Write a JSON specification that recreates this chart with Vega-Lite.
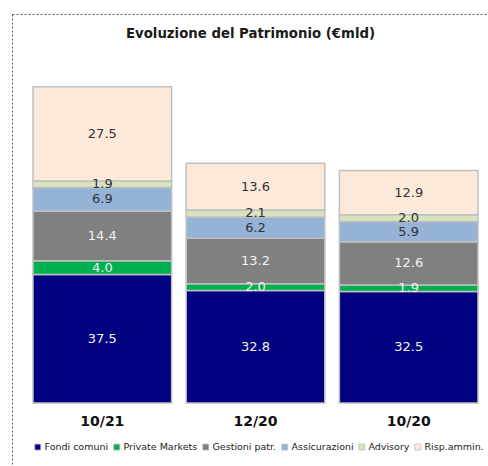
{
  "$schema": "https://vega.github.io/schema/vega-lite/v6.json",
  "width": 477,
  "height": 470,
  "autosize": "none",
  "padding": {"left": 12, "top": 14, "right": 0, "bottom": 0},
  "background": "white",
  "config": {
    "view": {"stroke": "#555555", "strokeDash": [2, 2], "strokeWidth": 1},
    "font": "DejaVu Sans"
  },
  "title": {
    "text": "Evoluzione del Patrimonio (€mld)",
    "font": "DejaVu Sans",
    "fontSize": 13.3,
    "fontWeight": "bold",
    "color": "#1a1a1a",
    "anchor": "middle",
    "offset": -26
  },
  "data": {
    "values": [
      {"cat": "10/21", "serie": "Fondi comuni", "ord": 1, "value": 37.5},
      {"cat": "10/21", "serie": "Private Markets", "ord": 2, "value": 4.0},
      {"cat": "10/21", "serie": "Gestioni patr.", "ord": 3, "value": 14.4},
      {"cat": "10/21", "serie": "Assicurazioni", "ord": 4, "value": 6.9},
      {"cat": "10/21", "serie": "Advisory", "ord": 5, "value": 1.9},
      {"cat": "10/21", "serie": "Risp.ammin.", "ord": 6, "value": 27.5},
      {"cat": "12/20", "serie": "Fondi comuni", "ord": 1, "value": 32.8},
      {"cat": "12/20", "serie": "Private Markets", "ord": 2, "value": 2.0},
      {"cat": "12/20", "serie": "Gestioni patr.", "ord": 3, "value": 13.2},
      {"cat": "12/20", "serie": "Assicurazioni", "ord": 4, "value": 6.2},
      {"cat": "12/20", "serie": "Advisory", "ord": 5, "value": 2.1},
      {"cat": "12/20", "serie": "Risp.ammin.", "ord": 6, "value": 13.6},
      {"cat": "10/20", "serie": "Fondi comuni", "ord": 1, "value": 32.5},
      {"cat": "10/20", "serie": "Private Markets", "ord": 2, "value": 1.9},
      {"cat": "10/20", "serie": "Gestioni patr.", "ord": 3, "value": 12.6},
      {"cat": "10/20", "serie": "Assicurazioni", "ord": 4, "value": 5.9},
      {"cat": "10/20", "serie": "Advisory", "ord": 5, "value": 2.0},
      {"cat": "10/20", "serie": "Risp.ammin.", "ord": 6, "value": 12.9}
    ]
  },
  "transform": [
    {"stack": "value", "groupby": ["cat"], "sort": [{"field": "ord", "order": "ascending"}], "as": ["v0", "v1"]},
    {"calculate": "(datum.v0 + datum.v1) / 2", "as": "vmid"}
  ],
  "encoding": {
    "x": {
      "field": "cat",
      "type": "nominal",
      "sort": ["10/21", "12/20", "10/20"],
      "scale": {"range": [21, 466], "paddingInner": 0.095, "paddingOuter": 0},
      "axis": {
        "title": null,
        "orient": "bottom",
        "offset": -70,
        "domain": false,
        "ticks": false,
        "labelAngle": 0,
        "labelFont": "DejaVu Sans",
        "labelFontSize": 14,
        "labelFontWeight": "bold",
        "labelColor": "#111111",
        "labelPadding": 0
      }
    }
  },
  "layer": [
    {
      "mark": {"type": "bar", "stroke": "#c0c0c0", "strokeWidth": 1.5},
      "encoding": {
        "y": {
          "field": "v0",
          "type": "quantitative",
          "scale": {"domain": [-23.6, 113.4], "nice": false, "zero": false},
          "axis": null
        },
        "y2": {"field": "v1"},
        "color": {
          "field": "serie",
          "type": "nominal",
          "scale": {
            "domain": ["Fondi comuni", "Private Markets", "Gestioni patr.", "Assicurazioni", "Advisory", "Risp.ammin."],
            "range": ["#000080", "#00b050", "#808080", "#95b3d7", "#d7e4bd", "#fde9d9"]
          },
          "legend": {
            "title": null,
            "orient": "none",
            "direction": "horizontal",
            "columns": 6,
            "legendX": 21,
            "legendY": 428,
            "padding": 0,
            "symbolType": "square",
            "symbolSize": 36,
            "symbolStrokeColor": "#bfbfbf",
            "symbolStrokeWidth": 0.8,
            "labelFont": "DejaVu Sans",
            "labelFontSize": 9.5,
            "labelColor": "#222222",
            "labelOffset": 2,
            "columnPadding": 3
          }
        }
      }
    },
    {
      "mark": {"type": "text", "font": "DejaVu Sans", "fontSize": 13, "baseline": "middle", "align": "center"},
      "encoding": {
        "y": {"field": "vmid", "type": "quantitative"},
        "text": {"field": "value", "type": "quantitative", "format": ".1f"},
        "color": {
          "condition": {"test": "datum.ord <= 3", "value": "#f2f2f2"},
          "value": "#333333"
        }
      }
    }
  ]
}
